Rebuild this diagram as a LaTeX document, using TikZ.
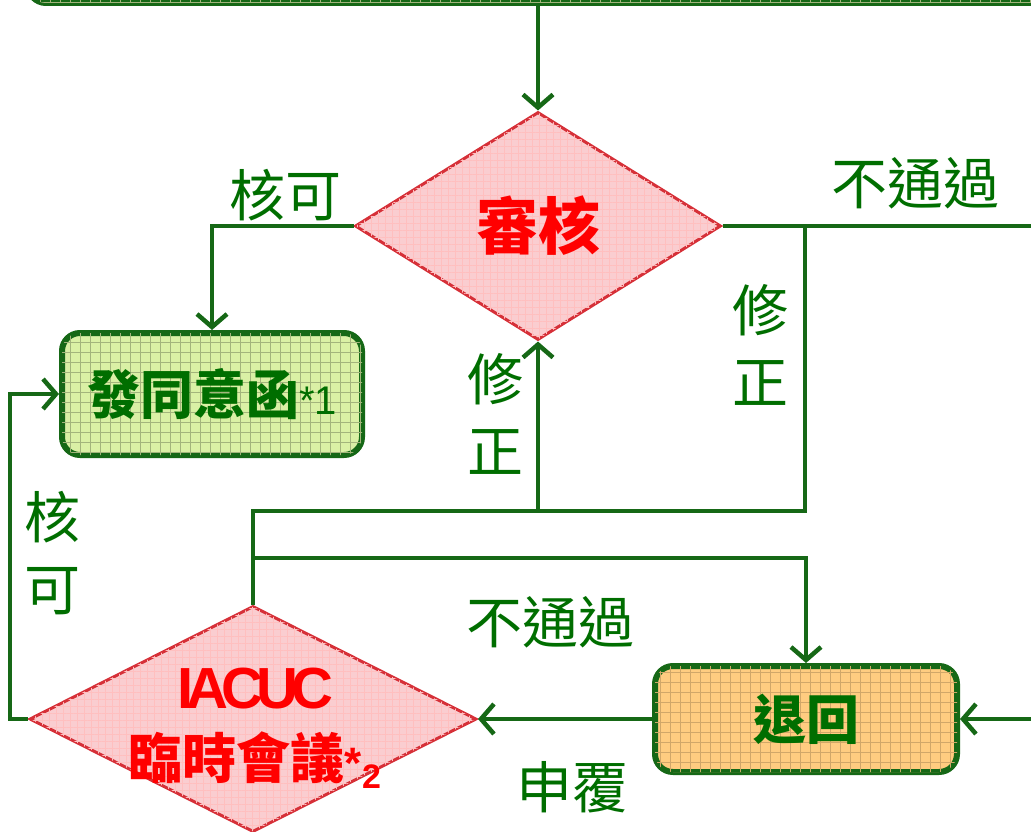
\documentclass[tikz,border=0pt]{standalone}
\usepackage{fontspec}
\setmainfont{Noto Sans CJK TC}
\setsansfont{Liberation Sans}
\newfontfamily\iacucfont[LetterSpace=-12]{Liberation Sans}
\usetikzlibrary{positioning, shapes.geometric, arrows.meta, patterns.meta}
\definecolor{lgreen}{RGB}{22,104,22}
\definecolor{tgreen}{RGB}{0,110,0}
\definecolor{dred}{RGB}{214,48,56}
\definecolor{dfill}{RGB}{250,205,208}
\definecolor{gfill}{RGB}{218,240,165}
\definecolor{ofill}{RGB}{255,204,128}
\tikzset{meshed/.style 2 args={
	postaction={pattern={Lines[distance=#2,line width=.6pt]},pattern color=#1},
	postaction={pattern={Lines[angle=90,distance=#2,line width=.6pt]},pattern color=#1}}}
\tikzstyle{flow}=[lgreen,line width=4.5pt]
\tikzstyle{arr}=[-{Straight Barb[length=13pt,width=30pt]}]
\tikzstyle{decision}=[diamond,draw=dred,line width=3pt,fill=dfill,inner sep=0pt,text=red,meshed={red!25}{7pt}]
\tikzstyle{box}=[rectangle,rounded corners=18pt,draw=lgreen,line width=6pt,text=tgreen,font=\fontsize{53}{60}\selectfont\bfseries]
\tikzstyle{lbl}=[text=tgreen,font=\fontsize{56}{72}\selectfont,align=center,inner sep=0pt]

\begin{document}
\begin{tikzpicture}[x=1pt,y=-1pt]
	\useasboundingbox (0,0) rectangle (1031,832);
	% boxes and decisions
	\node[box,fill=gfill,meshed={gfill!75!black}{10pt},minimum width=1040pt,minimum height=60pt] (intake) at (548,-27) {};
	\node[decision,minimum width=366pt,minimum height=228pt,font=\fontsize{62}{70}\selectfont\bfseries] (review) at (538,226) {審核};
	\node[box,fill=gfill,meshed={gfill!75!black}{10pt},minimum width=300pt,minimum height=122pt] (permit) at (212,394)
		{發同意函{\sffamily\mdseries\fontsize{40}{40}\selectfont *1}};
	\node[decision,minimum width=447pt,minimum height=226pt] (meeting) at (253,719) {};
	\node[text=red,align=center,inner sep=0pt,font=\fontsize{54}{70}\selectfont\bfseries] (meetingtext) at (255,728)
		{{\iacucfont\fontsize{58}{70}\selectfont IACUC}\\臨時會議{\sffamily\fontsize{44}{44}\selectfont *\raisebox{-10pt}{\fontsize{34}{34}\selectfont 2}}};
	\node[box,fill=ofill,meshed={ofill!82!black}{10pt},minimum width=302pt,minimum height=106pt] (returned) at (806,719) {退回};
	% labels
	\node[lbl] (okTop) at (285,195) {核可};
	\node[lbl] (failTop) at (915,183) {不通過};
	\node[lbl] (fixR) at (760,345) {修\\正};
	\node[lbl] (fixL) at (495,414) {修\\正};
	\node[lbl] (okLeft) at (52,553) {核\\可};
	\node[lbl] (failMid) at (550,622) {不通過};
	\node[lbl] (appeal) at (572,787) {申覆};
	% connectors
	\coordinate (outR) at (1040,226);
	\coordinate (fork) at (805,226);
	\coordinate (loop) at (253,511);
	\coordinate (split) at (253,558);
	\coordinate (inR) at (1040,719);
	\draw[flow,arr] (intake.south -| review.north) -- (review.north);
	\draw[flow,arr] (review.west) -| (permit.north);
	\draw[flow] (review.east) -- (outR);
	\draw[flow] (fork) |- (loop) -- (meeting.north);
	\draw[flow,arr] (review.south |- loop) -- (review.south);
	\draw[flow,arr] (split) -| (returned.north);
	\draw[flow,arr] (meeting.west) -- ++(-18,0) |- (permit.west);
	\draw[flow,arr] (inR) -- (returned.east);
	\draw[flow,arr] (returned.west) -- (meeting.east);
\end{tikzpicture}
\end{document}
